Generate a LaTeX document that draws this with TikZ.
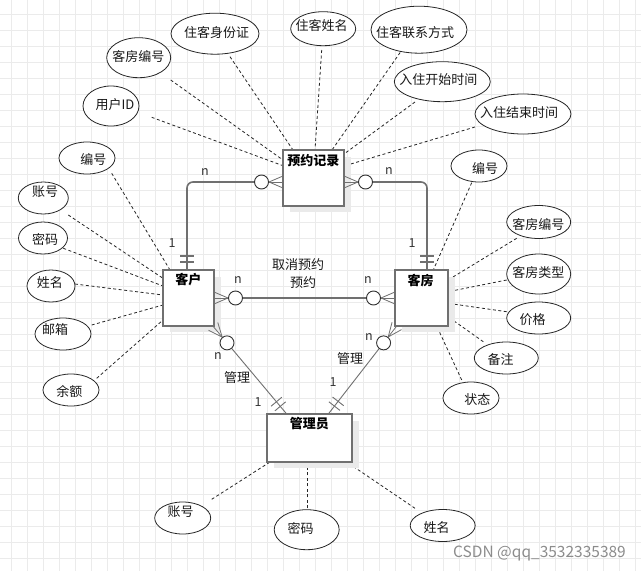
\documentclass[tikz,border=0pt]{standalone}
\usepackage{fontspec}
\setmainfont{Noto Sans CJK SC}
\usetikzlibrary{calc,shapes.geometric}
\definecolor{gridc}{HTML}{EBEBEB}
\definecolor{edgec}{HTML}{707070}
\definecolor{shadowc}{HTML}{EAEAEA}
\newcommand\crowc[2]{%
  \draw[crow] ($(#1)!6pt!90:(#2)$) -- ($(#1)!14pt!(#2)$) -- ($(#1)!6pt!-90:(#2)$);
  \draw[crow] (#1) -- ($(#1)!14pt!(#2)$);
  \draw[circ] ($(#1)!21.5pt!(#2)$) circle[radius=7pt];
}
\newcommand\barsat[5]{% point, toward, d1, d2, style
  \coordinate (bpa) at ($(#1)!#3pt!(#2)$);
  \coordinate (bpb) at ($(#1)!#4pt!(#2)$);
  \draw[#5] ($(bpa)!7pt!90:(#2)$) -- ($(bpa)!7pt!-90:(#2)$);
  \draw[#5] ($(bpb)!7pt!90:(#2)$) -- ($(bpb)!7pt!-90:(#2)$);
}
\begin{document}
\begin{tikzpicture}[x=1pt,y=-1pt,
  entity/.style={draw=edgec, line width=1.6pt, fill=white, rectangle, inner sep=0pt},
  shadowbox/.style={fill=shadowc, draw=none},
  attr/.style={draw=black!85, line width=0.8pt, fill=white, ellipse, inner sep=0pt},
  txt/.style={font=\fontsize{13}{15}\selectfont, inner sep=0pt, text=black!90},
  ttl/.style={font=\bfseries\fontsize{13}{15}\selectfont, inner sep=0pt},
  lbl/.style={font=\fontsize{12.5}{14}\selectfont, inner sep=0pt, text=black!80},
  conn/.style={draw=edgec, line width=1.6pt},
  thinconn/.style={draw=edgec, line width=0.9pt},
  crow/.style={draw=edgec, line width=0.8pt},
  circ/.style={draw=black!80, line width=0.9pt, fill=white},
  dline/.style={draw=black!85, line width=0.8pt, dash pattern=on 3pt off 2.5pt}]
\useasboundingbox (0,0) rectangle (641,571);
\fill[white] (0,0) rectangle (641,571);
% grid
\foreach \i in {0,...,39} {\draw[gridc, line width=0.9pt] (11.5+16*\i,0) -- (11.5+16*\i,571);}
\foreach \j in {0,...,35} {\draw[gridc, line width=0.9pt] (0,14+16*\j) -- (641,14+16*\j);}

% ---- dashed attribute links ----
% 预约记录
\draw[dline] (230,56.7) -- (293,150);
\draw[dline] (170.7,80) -- (283,160);
\draw[dline] (151.7,117.3) -- (283,165.7);
\draw[dline] (321.7,50) -- (315,150);
\draw[dline] (403.3,48) -- (332,150);
\draw[dline] (415,102) -- (344,154);
\draw[dline] (475,127) -- (344,166);
% 客户
\draw[dline] (111.7,173.3) -- (170,270);
\draw[dline] (68.3,215) -- (163,278.3);
\draw[dline] (63.3,248.3) -- (163,286);
\draw[dline] (75,284) -- (163,295);
\draw[dline] (91.7,325) -- (163,305);
\draw[dline] (96.7,378.3) -- (163,320);
% 客房
\draw[dline] (471.7,182.7) -- (433.3,270);
\draw[dline] (516.7,238.3) -- (448,280);
\draw[dline] (506.7,280) -- (448,291.7);
\draw[dline] (506.7,311.7) -- (448,303.3);
\draw[dline] (483.3,341.7) -- (448,316.7);
\draw[dline] (461.7,380) -- (436.7,326);
% 管理员
\draw[dline] (211.7,499.3) -- (270,462);
\draw[dline] (307.3,508.3) -- (307.3,462);
\draw[dline] (415,508.3) -- (346.7,462);

% ---- entities ----
\fill[shadowbox] (290,157) rectangle (351,212);
\node[entity, minimum width=61pt, minimum height=56pt] (yy) at (313.5,178) {};
\node[ttl] (yyt) at (313.3,160.7) {预约记录};

\fill[shadowbox] (170,277) rectangle (221,332);
\node[entity, minimum width=51pt, minimum height=56pt] (kh) at (188.5,298) {};
\node[ttl] (kht) at (188.3,280) {客户};

\fill[shadowbox] (402,277) rectangle (455,332);
\node[entity, minimum width=53pt, minimum height=56pt] (kf) at (421.5,298) {};
\node[ttl] (kft) at (420.7,280.7) {客房};

\fill[shadowbox] (274,421) rectangle (359,468);
\node[entity, minimum width=85pt, minimum height=48pt] (gl) at (309.5,438) {};
\node[ttl] (glt) at (309.3,424) {管理员};

% ---- relationship connectors ----
\coordinate (yL) at (283,182);
\coordinate (yR) at (344,182);
\coordinate (cL) at (187,182);
\coordinate (cR) at (427,182);
\coordinate (kT) at (187,270);
\coordinate (fT) at (427,270);
\coordinate (kR) at (214,298);
\coordinate (fL) at (395,298);
\coordinate (kB) at (213.2,326.4);
\coordinate (fB) at (396.8,325.9);
\coordinate (g1) at (286.7,414);
\coordinate (g2) at (328.3,414);

% 预约记录 - 客户
\draw[conn, rounded corners=6pt] ($(yL)!28.5pt!(cL)$) -- (cL) -- (kT);
\crowc{yL}{cL}
\barsat{kT}{cL}{8}{14}{conn}
% 预约记录 - 客房
\draw[conn, rounded corners=6pt] ($(yR)!28.5pt!(cR)$) -- (cR) -- (fT);
\crowc{yR}{cR}
\barsat{fT}{cR}{8}{14}{conn}
% 客户 - 客房
\draw[conn] ($(kR)!28.5pt!(fL)$) -- ($(fL)!28.5pt!(kR)$);
\crowc{kR}{fL}
\crowc{fL}{kR}
% 客户 - 管理员
\draw[thinconn] ($(kB)!28.5pt!(g1)$) -- (g1);
\crowc{kB}{g1}
\barsat{g1}{kB}{10}{16}{thinconn}
% 客房 - 管理员
\draw[thinconn] ($(fB)!28.5pt!(g2)$) -- (g2);
\crowc{fB}{g2}
\barsat{g2}{fB}{10}{16}{thinconn}

% labels
\node[lbl] (n1) at (205,172) {n};
\node[lbl] (o1) at (172,243) {1};
\node[lbl] (n2) at (389,171) {n};
\node[lbl] (o2) at (412,243) {1};
\node[lbl] (n3) at (238,280) {n};
\node[lbl] (n4) at (368,280) {n};
\node[txt] (r1) at (298,265) {取消预约};
\node[txt] (r2) at (303,283) {预约};
\node[lbl] (n5) at (218,356) {n};
\node[txt] (r3) at (237,378) {管理};
\node[lbl] (o3) at (258,402) {1};
\node[lbl] (n6) at (369,337) {n};
\node[txt] (r4) at (350,359) {管理};
\node[lbl] (o4) at (333,382) {1};

% ---- attribute ellipses ----
\node[attr, minimum width=88pt, minimum height=41pt] (a1) at (215,33.7) {};
\node[txt] at (216.7,32.7) {住客身份证};
\node[attr, minimum width=64pt, minimum height=40pt] (a2) at (138.7,57.7) {};
\node[txt] at (138.3,56) {客房编号};
\node[attr, minimum width=56pt, minimum height=40pt] (a3) at (111,106) {};
\node[txt] at (115,105) {用户ID};
\node[attr, minimum width=65pt, minimum height=34pt] (a4) at (323.2,28.7) {};
\node[txt] at (321.7,25) {住客姓名};
\node[attr, minimum width=96pt, minimum height=47pt] (a5) at (419,29.7) {};
\node[txt] at (415,32.3) {住客联系方式};
\node[attr, minimum width=96pt, minimum height=40pt] (a6) at (442.3,81.7) {};
\node[txt] at (438.3,80) {入住开始时间};
\node[attr, minimum width=96pt, minimum height=40pt] (a7) at (523,114) {};
\node[txt] at (519,112.3) {入住结束时间};

\node[attr, minimum width=56pt, minimum height=32pt] (b1) at (87,158) {};
\node[txt] at (93.3,160) {编号};
\node[attr, minimum width=50pt, minimum height=32pt] (b2) at (43.3,198) {};
\node[txt] at (45,191.7) {账号};
\node[attr, minimum width=49pt, minimum height=32pt] (b3) at (43,238) {};
\node[txt] at (45,239.3) {密码};
\node[attr, minimum width=48pt, minimum height=32pt] (b4) at (51,286) {};
\node[txt] at (50,282.7) {姓名};
\node[attr, minimum width=56pt, minimum height=32pt] (b5) at (63,334) {};
\node[txt] at (55,329.3) {邮箱};
\node[attr, minimum width=56pt, minimum height=32pt] (b6) at (71,390) {};
\node[txt] at (69.3,391.7) {余额};

\node[attr, minimum width=56pt, minimum height=32pt] (c1) at (479,166) {};
\node[txt] at (485,168.3) {编号};
\node[attr, minimum width=64pt, minimum height=33pt] (c2) at (538.7,222) {};
\node[txt] at (538.3,224) {客房编号};
\node[attr, minimum width=64pt, minimum height=40pt] (c3) at (538.7,274) {};
\node[txt] at (538.3,272.3) {客房类型};
\node[attr, minimum width=64pt, minimum height=32pt] (c4) at (538.7,318) {};
\node[txt] at (532.7,320) {价格};
\node[attr, minimum width=64pt, minimum height=32pt] (c5) at (506.3,358) {};
\node[txt] at (500.7,360) {备注};
\node[attr, minimum width=56pt, minimum height=32pt] (c6) at (471,398) {};
\node[txt] at (477.3,400) {状态};

\node[attr, minimum width=56pt, minimum height=32pt] (d1) at (182.7,518) {};
\node[txt] at (180.7,511.7) {账号};
\node[attr, minimum width=65pt, minimum height=40pt] (d2) at (306.7,529.7) {};
\node[txt] at (300.7,528.3) {密码};
\node[attr, minimum width=65pt, minimum height=32pt] (d3) at (442.7,525.5) {};
\node[txt] at (436.7,527.7) {姓名};

% watermark
\node[font=\fontsize{15.5}{17}\selectfont, text=black!45, inner sep=0pt] (wm) at (539.5,553) {CSDN @qq\_3532335389};
\end{tikzpicture}
\end{document}
